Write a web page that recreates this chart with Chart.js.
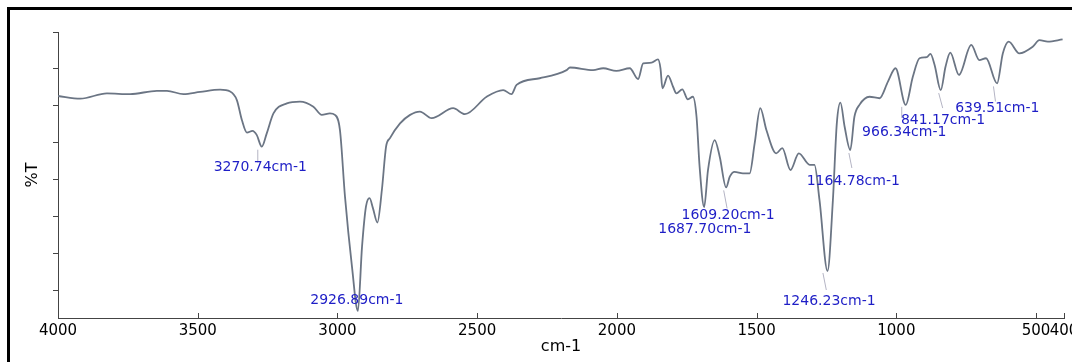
<!DOCTYPE html>
<html><head><meta charset="utf-8">
<script src="https://cdn.jsdelivr.net/npm/chart.js@4.4.0/dist/chart.umd.min.js"></script>
<style>
html,body{margin:0;padding:0;background:#fff;overflow:hidden;}
#wrap{position:relative;width:1072px;height:362px;overflow:hidden;}
#frame{position:absolute;left:7px;top:7px;width:1200px;height:500px;border:3px solid #000;pointer-events:none;}
</style></head><body>
<div id="wrap"><canvas id="c" width="1072" height="362"></canvas><div id="frame"></div></div>
<script>
// Spectrum (wavenumber cm-1, %T in arbitrary units)
const wavenumbers = [4000,3920,3825,3742,3646,3610,3551,3491,3420,3384,3360,3342,3324,3304,3289,3270.74,3253,3229,3181,3134,3086,3056,3027,3009,2991,2973,2948,2926.89,2912,2898,2885,2873,2857,2841,2826,2812,2776,2740,2705,2663,2586,2544,2466,2407,2377,2359,2276,2180,2168,2085,2049,2002,1954,1924,1906,1876,1853,1844,1837,1817,1799,1787,1766,1746,1728,1715,1704,1687.70,1674,1650,1632,1609.20,1596,1579,1549,1525,1507,1487,1465,1430,1408,1379,1349,1310,1293,1275,1246.23,1227,1213,1200,1185,1164.78,1150,1132,1096,1060,1030,1003,966.34,941,917,891,878,863,841.17,824,807,776,732,703,679,639.51,619,598,560,512,488,458,405];
const transmittance = [82.7,82.0,83.4,83.2,84.1,84.1,83.2,83.8,84.4,83.9,81.6,76.2,72.8,73.3,72.2,69.0,72.6,78.0,80.7,81.2,79.8,77.6,78.0,77.6,73.5,55.5,36.6,24.6,42.0,52.8,55.1,52.4,48.5,57.3,69.0,71.3,75.3,77.6,78.5,76.7,79.4,77.8,82.5,84.3,83.2,85.7,87.5,89.7,90.4,89.7,90.2,89.5,90.2,87.3,91.5,91.7,92.6,90.2,84.8,88.2,85.2,83.4,84.5,81.8,82.5,77.1,63.6,52.7,62.7,70.8,66.3,58.0,60.9,62.2,61.8,61.8,69.9,79.4,73.5,67.2,68.6,62.7,67.2,64.1,64.1,54.6,35.4,54.6,75.3,80.9,74.4,68.1,77.1,80.3,82.5,82.1,86.6,90.2,80.3,87.9,92.9,93.2,94.1,91.1,84.3,90.6,94.4,88.4,96.5,92.4,92.9,86.1,94.2,97.4,94.2,96.0,97.8,97.4,98.0];
const xTickValues = [4000,3500,3000,2500,2000,1500,1000,500,400];
const yTickValues = [100,90,80,70,60,50,40,30];
const peakWavenumbers = [3270.74,2926.89,1687.70,1609.20,1246.23,1164.78,966.34,841.17,639.51];
const peakTransmittance = [69.0,24.6,52.7,58.0,35.4,68.1,80.3,84.3,86.1];
const peakLabels = peakWavenumbers.map(w => w.toFixed(2) + 'cm-1');

// annotation placement relative to each peak (pixels)
const labelLayout = [
  {dx:-1.5, dy:21,   line:[-4,3,-4,16]},
  {dx:-1,   dy:-11,  line:null},
  {dx:0.7,  dy:22,   line:null},
  {dx:2,    dy:28.4, line:[-2.4,3,1,21]},
  {dx:1.5,  dy:30,   line:[-4.6,2,-1.2,19]},
  {dx:3,    dy:31,   line:[-1.4,3,1.6,18]},
  {dx:-1.5, dy:27.7, line:[-4,2,-4,13]},
  {dx:2.3,  dy:30.3, line:[-2,3,2,18]},
  {dx:0.2,  dy:25.4, line:[-3.6,3,-1.6,18]}
];

const annot = {
  id: 'annot',
  afterDatasetsDraw(chart) {
    const {ctx, chartArea} = chart;
    const x = chart.scales.x, y = chart.scales.y;
    ctx.save();
    ctx.strokeStyle = '#444'; ctx.lineWidth = 1;
    xTickValues.forEach(v => {
      const px = Math.round(x.getPixelForValue(v)) + 0.5;
      ctx.beginPath(); ctx.moveTo(px, chartArea.bottom); ctx.lineTo(px, chartArea.bottom - 5); ctx.stroke();
    });
    ctx.font = '14px "DejaVu Sans"';
    ctx.textAlign = 'center'; ctx.textBaseline = 'middle';
    peakWavenumbers.forEach((w, i) => {
      const px = x.getPixelForValue(w), py = y.getPixelForValue(peakTransmittance[i]);
      const L = labelLayout[i];
      if (L.line) {
        ctx.strokeStyle = '#b4b4c4'; ctx.lineWidth = 1;
        ctx.beginPath(); ctx.moveTo(px + L.line[0], py + L.line[1]); ctx.lineTo(px + L.line[2], py + L.line[3]); ctx.stroke();
      }
      ctx.fillStyle = '#1e1ec6';
      ctx.fillText(peakLabels[i], px + L.dx, py + L.dy);
    });
    ctx.restore();
  }
};

new Chart(document.getElementById('c').getContext('2d'), {
  type: 'line',
  data: {
    datasets: [{
      data: wavenumbers.map((w, i) => ({x: w, y: transmittance[i]})),
      borderColor: '#6b7584', borderWidth: 1.8, pointRadius: 0,
      cubicInterpolationMode: 'monotone', fill: false
    }]
  },
  options: {
    responsive: false, animation: false, devicePixelRatio: 1,
    layout: {padding: {left: 0, top: 32, right: 8, bottom: 0}},
    plugins: {legend: {display: false}, tooltip: {enabled: false}},
    scales: {
      x: {
        type: 'linear', reverse: true, min: 400, max: 4000,
        afterBuildTicks: s => { s.ticks = xTickValues.map(v => ({value: v})); },
        afterFit: s => { s.height = 44; s.paddingLeft = 0; s.paddingRight = 0; },
        grid: {display: true, drawOnChartArea: false, drawTicks: false},
        border: {display: true, color: '#444', width: 1},
        ticks: {autoSkip: false, maxRotation: 0, padding: 4, color: '#000',
                font: {family: 'DejaVu Sans', size: 15}, callback: v => String(v)},
        title: {display: true, text: 'cm-1', color: '#000',
                font: {family: 'DejaVu Sans', size: 16}, padding: {top: 0, bottom: 6}}
      },
      y: {
        min: 22.7, max: 100,
        afterBuildTicks: s => { s.ticks = yTickValues.map(v => ({value: v})); },
        afterFit: s => { s.width = 58; },
        grid: {drawOnChartArea: false, drawTicks: true, tickLength: 5, color: '#444'},
        border: {display: true, color: '#444', width: 1},
        ticks: {display: false},
        title: {display: true, text: '%T', color: '#000',
                font: {family: 'DejaVu Sans', size: 16}, padding: {top: 23, bottom: 0}}
      }
    }
  },
  plugins: [annot]
});
</script>
</body></html>
